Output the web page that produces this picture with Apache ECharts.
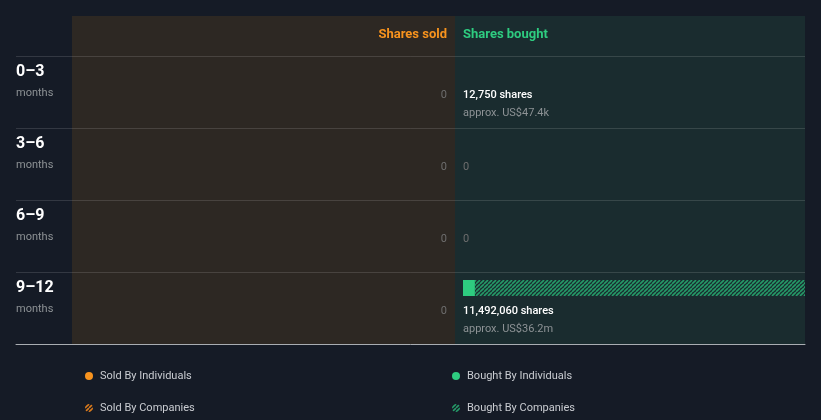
<!DOCTYPE html>
<html><head><meta charset="utf-8">
<script src="https://cdn.jsdelivr.net/npm/echarts@6/dist/echarts.min.js"></script>
<style>html,body{margin:0;padding:0;background:#151b26;}#c{width:821px;height:420px;}</style>
</head><body><div id="c"></div>
<script>
// ---- data ----
const periods = ['0–3', '3–6', '6–9', '9–12'];
const periodUnit = 'months';
const soldByIndividuals = [0, 0, 0, 0];
const soldByCompanies = [0, 0, 0, 0];
const boughtByIndividuals = [12750, 0, 0, 400000];
const boughtByCompanies = [0, 0, 0, 11092060];
const soldValueUSD = [0, 0, 0, 0];
const boughtValueUSD = [47400, 0, 0, 36200000];
const seriesNames = ['Sold By Individuals', 'Sold By Companies', 'Bought By Individuals', 'Bought By Companies'];
const headers = ['Shares sold', 'Shares bought'];

// ---- styles ----
const ORANGE = '#f7931e', GREEN = '#2ecc80';
const FONT = 'Roboto, "Noto Sans", sans-serif';
function hatch(color) {
  const n = 4, c = document.createElement('canvas');
  c.width = n; c.height = n;
  const g = c.getContext('2d');
  g.strokeStyle = color; g.lineWidth = 1.6;
  g.beginPath();
  for (let k = -1; k <= 1; k++) { g.moveTo(k * n, n); g.lineTo(k * n + n, 0); }
  g.stroke();
  return { image: c, repeat: 'repeat' };
}
const orangeHatch = hatch('#d97a1c');
const greenHatch = hatch('#259a68');

const soldTotals = soldByIndividuals.map((v, i) => v + soldByCompanies[i]);
const boughtTotals = boughtByIndividuals.map((v, i) => v + boughtByCompanies[i]);
const maxVal = Math.max(...soldTotals, ...boughtTotals);

function fmtShares(v) { return v.toLocaleString('en-US') + ' shares'; }
function fmtUSD(v) {
  if (v >= 1e6) return 'approx. US$' + (v / 1e6).toFixed(1) + 'm';
  if (v >= 1e3) return 'approx. US$' + (v / 1e3).toFixed(1) + 'k';
  return 'approx. US$' + v;
}
function stackData(base, add) { return base.map((v, i) => [v, v + add[i], i]); }

function barRender(color) {
  return function (params, api) {
    const s = api.value(0), e = api.value(1), cat = api.value(2);
    if (e - s <= 0) return;
    const a = api.coord([s, cat]), b = api.coord([e, cat]);
    const w = Math.abs(b[0] - a[0]);
    if (w < 1) return;
    return {
      type: 'rect',
      shape: { x: Math.min(a[0], b[0]), y: a[1] - 28, width: w, height: 16 },
      style: { fill: color }
    };
  };
}
function labelRender(side) {
  return function (params, api) {
    const cat = api.value(1), total = api.value(2), usd = api.value(3);
    const p = api.coord([0, cat]);
    const align = side === 'sold' ? 'right' : 'left';
    if (!total) {
      return { type: 'text', x: p[0], y: p[1] + 3,
        style: { text: '0', fill: '#6e6e6e', font: '11px ' + FONT, align: align, verticalAlign: 'middle' } };
    }
    return { type: 'group', children: [
      { type: 'text', x: p[0], y: p[1] + 3,
        style: { text: fmtShares(total), fill: '#ffffff', font: '500 11px ' + FONT, align: align, verticalAlign: 'middle' } },
      { type: 'text', x: p[0], y: p[1] + 21,
        style: { text: fmtUSD(usd), fill: '#8d9295', font: '11px ' + FONT, align: align, verticalAlign: 'middle' } }
    ] };
  };
}

const chart = echarts.init(document.getElementById('c'), null, { renderer: 'canvas' });
chart.setOption({
  backgroundColor: '#151b26',
  animation: false,
  textStyle: { fontFamily: FONT },
  graphic: [
    { type: 'rect', z: -10, shape: { x: 72, y: 16, width: 383, height: 328 }, style: { fill: '#2d2823' } },
    { type: 'rect', z: -10, shape: { x: 455, y: 16, width: 350, height: 328 }, style: { fill: '#1a2c2f' } },
    { type: 'text', x: 447, y: 35, style: { text: headers[0], fill: ORANGE, font: 'bold 13px ' + FONT, align: 'right', verticalAlign: 'middle' } },
    { type: 'text', x: 463, y: 35, style: { text: headers[1], fill: GREEN, font: 'bold 13px ' + FONT, align: 'left', verticalAlign: 'middle' } }
  ],
  grid: [
    { left: 72, top: 56, width: 375, height: 288 },
    { left: 463, top: 56, width: 342, height: 288 },
    { left: 16, top: 56, width: 789, height: 288 }
  ],
  xAxis: [
    { type: 'value', gridIndex: 0, inverse: true, min: 0, max: maxVal, show: false },
    { type: 'value', gridIndex: 1, min: 0, max: maxVal, show: false },
    { type: 'value', gridIndex: 2, min: 0, max: 1, axisLine: { show: true, onZero: false, lineStyle: { color: '#a9adb2', width: 1 } },
      axisTick: { show: false }, axisLabel: { show: false }, splitLine: { show: false } }
  ],
  yAxis: [
    { type: 'category', gridIndex: 0, inverse: true, data: periods, show: false },
    { type: 'category', gridIndex: 1, inverse: true, data: periods, show: false },
    { type: 'category', gridIndex: 2, inverse: true, data: periods,
      axisLine: { show: false }, axisTick: { show: false },
      splitLine: { show: true, lineStyle: { color: 'rgba(255,255,255,0.13)', width: 1 } },
      axisLabel: {
        inside: true, margin: 0, align: 'left', verticalAlign: 'middle',
        padding: [0, 0, 19, 0],
        formatter: v => '{a|' + v + '}\n{b|' + periodUnit + '}',
        rich: {
          a: { fontSize: 16, fontWeight: 'bold', color: '#ffffff', lineHeight: 22, fontFamily: FONT },
          b: { fontSize: 11, color: '#8d9295', lineHeight: 22, fontFamily: FONT }
        }
      } }
  ],
  legend: [
    { data: [seriesNames[0], seriesNames[1]], left: 80, top: 364, orient: 'vertical', icon: 'circle',
      itemWidth: 8, itemHeight: 8, itemGap: 18, selectedMode: false,
      textStyle: { color: '#c9ccd1', fontSize: 11, fontFamily: FONT, padding: [0, 0, 0, 2], height: 14, lineHeight: 14 } },
    { data: [seriesNames[2], seriesNames[3]], left: 447, top: 364, orient: 'vertical', icon: 'circle',
      itemWidth: 8, itemHeight: 8, itemGap: 18, selectedMode: false,
      textStyle: { color: '#c9ccd1', fontSize: 11, fontFamily: FONT, padding: [0, 0, 0, 2], height: 14, lineHeight: 14 } }
  ],
  series: [
    { name: seriesNames[0], type: 'custom', xAxisIndex: 0, yAxisIndex: 0, itemStyle: { color: ORANGE },
      renderItem: barRender(ORANGE), encode: { x: [0, 1], y: 2 },
      data: stackData(soldByIndividuals.map(() => 0), soldByIndividuals) },
    { name: seriesNames[1], type: 'custom', xAxisIndex: 0, yAxisIndex: 0, itemStyle: { color: orangeHatch },
      renderItem: barRender(orangeHatch), encode: { x: [0, 1], y: 2 },
      data: stackData(soldByIndividuals, soldByCompanies) },
    { name: seriesNames[2], type: 'custom', xAxisIndex: 1, yAxisIndex: 1, itemStyle: { color: GREEN },
      renderItem: barRender(GREEN), encode: { x: [0, 1], y: 2 },
      data: stackData(boughtByIndividuals.map(() => 0), boughtByIndividuals) },
    { name: seriesNames[3], type: 'custom', xAxisIndex: 1, yAxisIndex: 1, itemStyle: { color: greenHatch },
      renderItem: barRender(greenHatch), encode: { x: [0, 1], y: 2 },
      data: stackData(boughtByIndividuals, boughtByCompanies) },
    { name: 'soldLabels', type: 'custom', xAxisIndex: 0, yAxisIndex: 0, renderItem: labelRender('sold'),
      encode: { x: 0, y: 1 }, data: soldTotals.map((v, i) => [0, i, v, soldValueUSD[i]]) },
    { name: 'boughtLabels', type: 'custom', xAxisIndex: 1, yAxisIndex: 1, renderItem: labelRender('bought'),
      encode: { x: 0, y: 1 }, data: boughtTotals.map((v, i) => [0, i, v, boughtValueUSD[i]]) }
  ]
});
</script>
</body></html>
